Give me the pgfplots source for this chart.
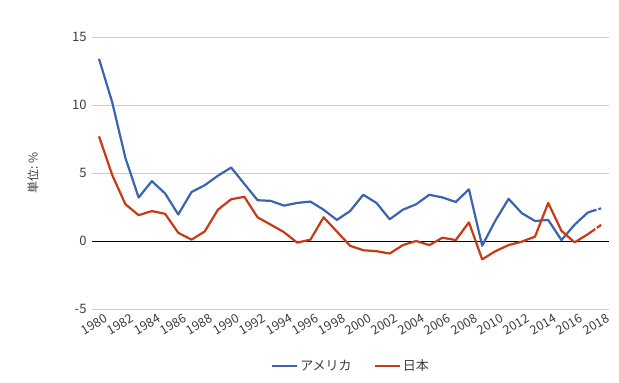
\documentclass[border=0pt]{standalone}
\usepackage{pgfplots}
\pgfplotsset{compat=1.18}
\usepackage{fontspec}
\setmainfont{Noto Sans CJK JP}
\definecolor{usblue}{RGB}{59,99,175}
\definecolor{jpred}{RGB}{200,58,22}
\definecolor{tickgray}{RGB}{60,60,60}
\definecolor{gridgray}{RGB}{204,204,204}
\pgfplotstableread{
year us jp
1980 13.4 7.7
1981 10.2 4.85
1982 6.1 2.7
1983 3.2 1.9
1984 4.4 2.2
1985 3.5 2.0
1986 1.95 0.6
1987 3.6 0.1
1988 4.1 0.7
1989 4.8 2.3
1990 5.4 3.07
1991 4.2 3.25
1992 3.0 1.74
1993 2.95 1.2
1994 2.6 0.65
1995 2.8 -0.12
1996 2.9 0.1
1997 2.3 1.74
1998 1.55 0.7
1999 2.2 -0.35
2000 3.4 -0.68
2001 2.8 -0.75
2002 1.6 -0.92
2003 2.3 -0.3
2004 2.7 0.0
2005 3.4 -0.3
2006 3.2 0.24
2007 2.87 0.07
2008 3.8 1.37
2009 -0.35 -1.35
2010 1.5 -0.75
2011 3.1 -0.3
2012 2.05 -0.05
2013 1.47 0.32
2014 1.55 2.8
2015 0.07 0.75
2016 1.2 -0.1
2017 2.1 0.5
}\solid
\pgfplotstableread{
year us jp
2017 2.1 0.5
2018 2.4 1.18
}\dashedpart
\begin{document}
\begin{tikzpicture}[x=1pt,y=1pt]
\begin{axis}[
  at={(92pt,74pt)}, anchor=south west,
  scale only axis, width=517pt, height=272pt,
  xmin=1979.47, xmax=2018.6,
  ymin=-5, ymax=15,
  axis line style={draw=none},
  ytick={-5,0,5,10,15},
  xtick={1980,1982,...,2018},
  x tick label style={/pgf/number format/1000 sep=, rotate=30, anchor=north east, inner sep=1pt, font=\fontsize{12.5}{14}\selectfont, text=tickgray, yshift=-5pt, xshift=3pt},
  y tick label style={font=\fontsize{13}{15}\selectfont, text=tickgray, xshift=-2pt},
  /pgf/number format/assume math mode=true,
  ymajorgrids, grid style={gridgray, line width=1pt},
  extra y ticks={0}, extra y tick labels={},
  extra y tick style={grid style={black, line width=1pt}},
  tick style={draw=none},
  ylabel={単位: \%},
  ylabel style={font=\fontsize{12}{14}\selectfont, text=tickgray, at={(axis description cs:0,0.5)}, yshift=59pt, anchor=center},
  legend columns=2,
  legend style={draw=none, fill=none, at={(0.501,-0.2096)}, anchor=center, font=\fontsize{13}{15}\selectfont, text=tickgray, /tikz/every even column/.append style={column sep=20pt}},
  legend image code/.code={\draw[#1] (0pt,0pt) -- (25pt,0pt);},
]
\addplot[usblue, line width=2.2pt, line join=round] table[x=year, y=us] {\solid};
\addlegendentry{アメリカ}
\addplot[jpred, line width=2.2pt, line join=round] table[x=year, y=jp] {\solid};
\addlegendentry{日本}
\addplot[usblue, line width=2.2pt, dash pattern=on 9pt off 2pt, forget plot] table[x=year, y=us] {\dashedpart};
\addplot[jpred, line width=2.2pt, dash pattern=on 9pt off 2pt, forget plot] table[x=year, y=jp] {\dashedpart};
\end{axis}
\pgfresetboundingbox
\useasboundingbox (0,0) rectangle (619,383);
\end{tikzpicture}
\end{document}
